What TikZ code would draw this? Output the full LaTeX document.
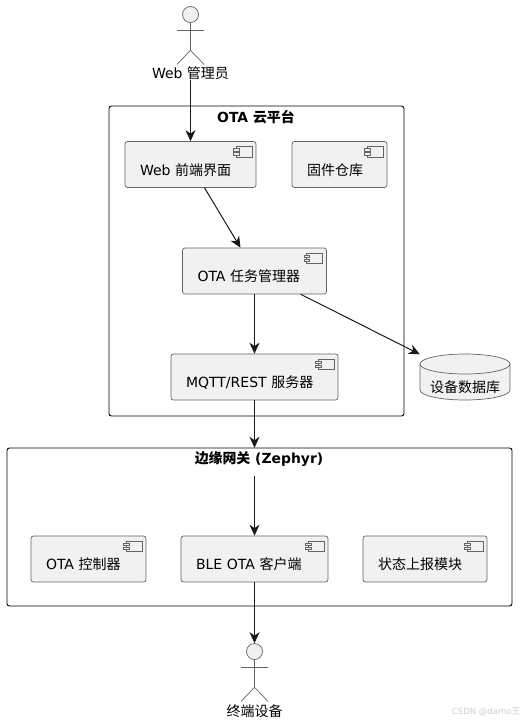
\documentclass[tikz,border=0pt]{standalone}
\usepackage{fontspec}
\setmainfont{DejaVu Sans}
\newfontfamily\cjk{Noto Sans CJK SC}
\usetikzlibrary{positioning,calc}
\usetikzlibrary{arrows.meta}
\definecolor{BoxFill}{RGB}{241,241,241}
\definecolor{BoxLine}{RGB}{100,100,100}
\definecolor{MarkGray}{RGB}{205,205,205}
\tikzset{
	compo/.style={draw=BoxLine,fill=BoxFill,rounded corners=2.5pt,line width=0.7pt,
		inner xsep=15pt,inner ysep=0pt,text width=#1,minimum height=46pt,align=left,
		text height=21pt,text depth=0pt,font=\fontsize{14}{16}\selectfont},
	icon/.style={draw=BoxLine,fill=BoxFill,line width=0.6pt},
	frame/.style={draw=black,rounded corners=2.5pt,line width=0.9pt},
	title/.style={font=\fontsize{13.9}{16}\selectfont\bfseries,inner sep=0pt},
	who/.style={font=\fontsize{14}{16}\selectfont,inner sep=0pt},
	stick/.style={draw=BoxLine,line width=0.7pt},
	link/.style={draw=black!90,line width=1pt,-{Stealth[length=11pt,width=10pt,inset=3.5pt]}},
}

\begin{document}
\begin{tikzpicture}[x=1pt,y=1pt]
	\useasboundingbox (0,0) rectangle (525,-723);
	% containers
	\draw[frame] (109,-106) rectangle (404,-416);
	\node[minimum width=295pt,minimum height=310pt,inner sep=0pt] (cloud) at (256.5,-261) {};
	\draw[frame] (7,-448) rectangle (512,-606);
	\node[minimum width=505pt,minimum height=158pt,inner sep=0pt] (gateway) at (259.5,-527) {};
	\node[title] (cloudtitle) at (256,-117) {OTA {\cjk 云平台}};
	\node[title] (gatewaytitle) at (259,-459) {{\cjk 边缘网关} (Zephyr)};
	% components
	\node[compo=101pt] (frontend) at (190.5,-164.5) {Web {\cjk 前端界面}};
	\node[compo=65pt] (firmware) at (339.5,-164.5) {{\cjk 固件仓库}};
	\node[compo=114pt] (taskmgr) at (254.5,-271) {OTA {\cjk 任务管理器}};
	\node[compo=137pt] (mqtt) at (254.5,-377) {MQTT/REST {\cjk 服务器}};
	\node[compo=85pt] (otactrl) at (88.5,-559) {OTA {\cjk 控制器}};
	\node[compo=117pt] (bleclient) at (254.5,-559) {BLE OTA {\cjk 客户端}};
	\node[compo=94pt] (report) at (425,-559) {{\cjk 状态上报模块}};
	\foreach \c in {frontend,firmware,taskmgr,mqtt,otactrl,bleclient,report}{
		\draw[icon] ($(\c.north east)+(-20.5,-5.5)$) rectangle ($(\c.north east)+(-4.5,-16)$);
		\draw[icon] ($(\c.north east)+(-23,-7.5)$) rectangle ($(\c.north east)+(-17.5,-10)$);
		\draw[icon] ($(\c.north east)+(-23,-11.5)$) rectangle ($(\c.north east)+(-17.5,-14)$);
	}
	% database
	\node[inner sep=0pt,minimum width=90pt,minimum height=46pt] (devdb) at (465,-377) {};
	\draw[draw=BoxLine,fill=BoxFill,line width=0.7pt] (420,-364) arc[start angle=180,end angle=0,x radius=45,y radius=10]
		-- (510,-390) arc[start angle=0,end angle=-180,x radius=45,y radius=10] -- cycle;
	\draw[draw=BoxLine,line width=0.7pt] (420,-364) arc[start angle=180,end angle=360,x radius=45,y radius=10];
	\node[inner sep=0pt,font=\fontsize{14}{16}\selectfont] (devdbtext) at (465,-387) {{\cjk 设备数据库}};
	% actors
	\node[circle,stick,fill=BoxFill,minimum size=16pt,inner sep=0pt] (adminhead) at (190.5,-14.5) {};
	\draw[stick] (adminhead.south) -- ++(0,-27.5) coordinate (adminhip);
	\draw[stick] ($(adminhead.south)+(-13.5,-7.5)$) -- ++(27,0);
	\draw[stick] (adminhip) -- ++(-13.5,-14) (adminhip) -- ++(13.5,-14);
	\node[who] (admin) at (190.5,-73) {Web {\cjk 管理员}};
	\node[circle,stick,fill=BoxFill,minimum size=16pt,inner sep=0pt] (devicehead) at (254.5,-651.5) {};
	\draw[stick] (devicehead.south) -- ++(0,-27.5) coordinate (devicehip);
	\draw[stick] ($(devicehead.south)+(-13.5,-7.5)$) -- ++(27,0);
	\draw[stick] (devicehip) -- ++(-13.5,-14) (devicehip) -- ++(13.5,-14);
	\node[who] (device) at (254.5,-711) {\cjk 终端设备};
	% links
	\coordinate (gwentry) at (254.5,-476);
	\foreach \x/\y in {frontend/taskmgr,taskmgr/mqtt,taskmgr/devdb,gwentry/bleclient,bleclient/devicehead}
		\draw[link] (\x)--(\y);
	\draw[link] (admin.south) -- (frontend.north);
	\draw[link] (mqtt.south) -- (mqtt.south |- gateway.north);
	\node[inner sep=0pt,text=MarkGray,font=\fontsize{8.5}{10}\selectfont] (csdnmark) at (486,-712) {CSDN @damo{\cjk 王}};
\end{tikzpicture}
\end{document}
